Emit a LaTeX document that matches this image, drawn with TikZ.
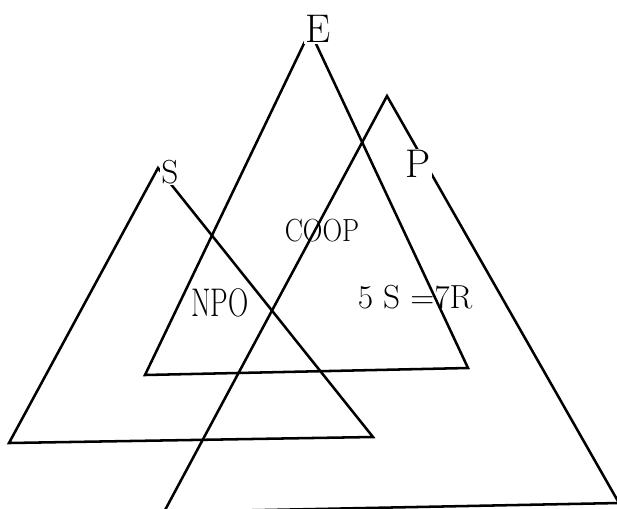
\documentclass[tikz,border=0pt]{standalone}
\usepackage{graphicx}
\usepackage{tikz}
\usetikzlibrary{positioning}

\begin{document}
\begin{tikzpicture}[
    x=0.75pt, y=-0.75pt,
    side/.style={draw=black, line width=1.9pt, line join=miter},
    big/.style={inner sep=0pt, font=\fontsize{30}{30}\selectfont},
    mid/.style={inner sep=0pt, font=\fontsize{25}{25}\selectfont},
    small/.style={inner sep=0pt, font=\fontsize{24}{24}\selectfont}
]
\useasboundingbox (0,0) rectangle (617,508);
% corners of the three triangles
\coordinate (eTop) at (310,31);
\coordinate (eL)   at (145,375);
\coordinate (eR)   at (468,368);
\coordinate (sTop) at (158,168);
\coordinate (sL)   at (9,443);
\coordinate (sR)   at (373,437);
\coordinate (pTop) at (387,96);
\coordinate (pL)   at (164,512);
\coordinate (pR)   at (619,503);

\draw[side] (eTop) -- (eL) -- (eR) -- cycle;
\draw[side] (sTop) -- (sL) -- (sR) -- cycle;
\begin{scope}
  \clip (0,0) rectangle (617,508);
  \draw[side] (pTop) -- (pL) -- (pR) -- cycle;
\end{scope}

% corner letters
\node[big, fill=white, inner sep=1pt] (e) at (318,29) {E};
\node[mid, fill=white, inner sep=1pt] (s) at (170,172) {S};
\node[big, fill=white, inner sep=1pt] (p) at (418,164) {P};

% region labels
\node[small] (coop) at (322,231) {\scalebox{0.85}[1]{COOP}};
\node[big] (npo) at (220,303) {\scalebox{0.7}[1]{NPO}};
\node[mid] (rate) at (415,297) {5 S =7R};
\end{tikzpicture}
\end{document}
